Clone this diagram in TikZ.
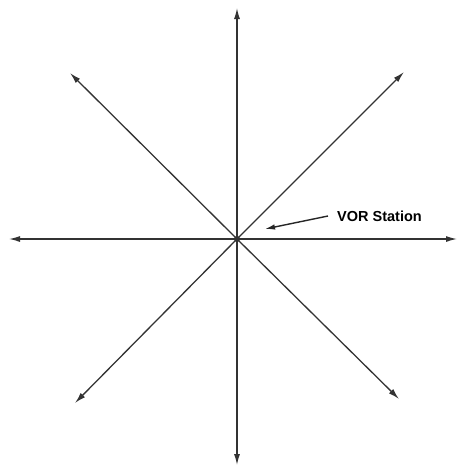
\documentclass[tikz,border=0pt]{standalone}
\usepackage{fontspec}
\setmainfont{Liberation Sans}
\usetikzlibrary{arrows.meta}
\begin{document}
\begin{tikzpicture}[x=1pt,y=-1pt,
  ray/.style={line width=1.3pt,color=black!80,-{Latex[length=11pt,width=6pt]}},
  ptr/.style={line width=1.4pt,color=black!85,-{Latex[length=10pt,width=5.5pt]}},
  lbl/.style={font=\bfseries\fontsize{14.5}{16}\selectfont,inner sep=0pt,anchor=west}]
\useasboundingbox (0,0) rectangle (458,467);
\fill[white] (0,0) rectangle (458,467);
\node[circle,fill=black,inner sep=0pt,minimum size=6pt] (c) at (237,239) {};
\coordinate (n) at (237,8);
\coordinate (s) at (237,465);
\coordinate (w) at (9,239);
\coordinate (e) at (457,239);
\coordinate (nw) at (70,73);
\coordinate (ne) at (404,72);
\coordinate (sw) at (75,403);
\coordinate (se) at (399,399);
\foreach \p in {n,s,w,e,nw,ne,sw,se} \draw[ray] (c.center) -- (\p);
\node[lbl] (v) at (337,216) {VOR Station};
\coordinate (t) at (265,229);
\draw[ptr] (v.west) ++(-9,0) coordinate (a) (a) -- (t);
\end{tikzpicture}
\end{document}
